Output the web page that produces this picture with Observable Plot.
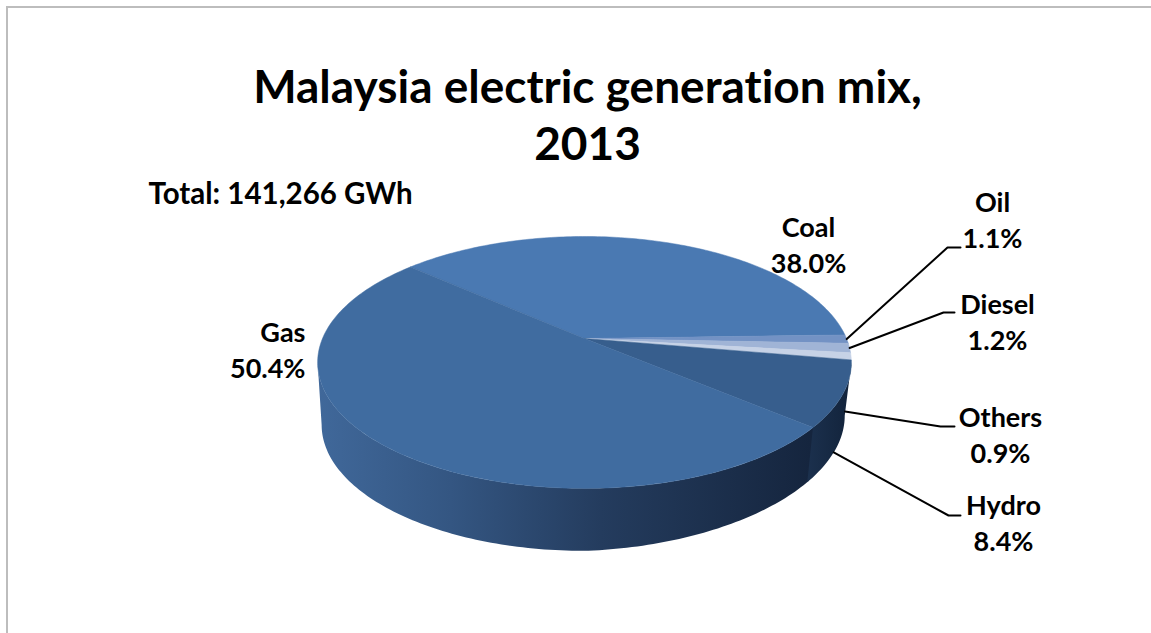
<!DOCTYPE html>
<html>
<head>
<meta charset="utf-8">
<script src="https://cdn.jsdelivr.net/npm/d3@7"></script>
<script src="https://cdn.jsdelivr.net/npm/@observablehq/plot@0.6"></script>
<style>
  html, body { margin: 0; padding: 0; background: #fff; overflow: hidden; }
  #frame { position: absolute; left: 6px; top: 6px; width: 1145px; height: 627px; border-top: 2px solid #bdbdbd; border-left: 2px solid #bdbdbd; box-sizing: border-box; pointer-events: none; }
  #title { position: absolute; left: 0; top: 0; width: 1175px; height: 165px; text-align: center; box-sizing: border-box; padding-top: 57px; font: 700 46px/57px Lato, sans-serif; font-variant-ligatures: none; color: #000; }
  #chart { position: absolute; left: 0; top: 165px; }
  #chart svg { display: block; }
</style>
</head>
<body>
<div id="frame"></div>
<div id="title">Malaysia electric generation mix,<br>2013</div>
<div id="chart"></div>
<script>
// Data, clockwise from the Gas/Coal boundary
const sources = ["Coal", "Oil", "Diesel", "Others", "Hydro", "Gas"];
const shares = [38.0, 1.1, 1.2, 0.9, 8.4, 50.4];
const totalLabel = "Total: 141,266 GWh";

// Styles
const sliceColors = ["#4a79b2", "#7392c4", "#a0b4d6", "#c6d2e6", "#375e8d", "#406ca0"];
const gasSideStops = [[318, "#40689a"], [450, "#345682"], [600, "#243c5e"], [810, "#15253e"]];
const hydroSideStops = [[808, "#1b304d"], [850, "#12233b"]];

// Label layout (outer end of leader line, label centre)
const labelLayout = [
  {name: "Coal", x: 808, y: 243},
  {name: "Gas", x: 305, y: 348},
  {name: "Oil", x: 992, y: 218, knee: [947, 247], end: 960, from: [0, 0]},
  {name: "Diesel", x: 997, y: 320, knee: [943, 312], end: 954, from: [0, 0]},
  {name: "Others", x: 1000, y: 433, knee: [940, 426], end: 954, from: [-2, 0.95]},
  {name: "Hydro", x: 1003, y: 521, knee: [948, 515], end: 960, from: [-2, 1]}
];

// Projection of the tilted disc: a circle in perspective
const apexX = 584, apexY = 338, A = 262, B = 121.4, K = 0.19, startAngle = 138.5;
const depth = 62.5, shrink = 0.985;
const rad = Math.PI / 180;
function rim(deg, t = 0) {
  const u = Math.cos(deg * rad), v = Math.sin(deg * rad), w = 1 + K * v;
  const x = apexX + A * u / w, y = apexY - B * v / w;
  const dx = x - apexX;
  const s = (1 + (shrink - 1) * t) * (dx > 0 ? 1 - 0.01 * t : 1);
  return {x: apexX + dx * s, y: y + depth * t - (dx > 0 ? 9 * (dx / A) * t : 0)};
}

// Slice angle ranges, built from the shares
let acc = startAngle;
const slices = sources.map((name, i) => {
  const a0 = acc, a1 = acc - shares[i] * 3.6;
  acc = a1;
  return {name, a0, a1, mid: (a0 + a1) / 2, color: sliceColors[i]};
});

// Top face polygons
const topPts = [];
for (const s of slices) {
  topPts.push({id: s.name, color: s.color, x: apexX, y: apexY});
  const n = Math.max(2, Math.ceil(Math.abs(s.a0 - s.a1)));
  for (let i = 0; i <= n; i++) {
    const p = rim(s.a0 + (s.a1 - s.a0) * i / n);
    topPts.push({id: s.name, color: s.color, ...p});
  }
}

// Side walls: top rim out, bottom rim back, between the silhouette angles
function wall(a, b) {
  const n = Math.ceil(Math.abs(a - b));
  const pts = d3.range(n + 1).map(i => rim(a + (b - a) * i / n));
  const back = d3.range(n, -1, -1).map(i => rim(a + (b - a) * i / n, 1));
  return pts.concat(back);
}
const seam = slices[4].a1;
const gasWall = wall(seam + 0.6, -169);
const hydroWall = wall(seam, -11);

// Gradient definitions used by the side walls
function gradientDefs() {
  const defs = d3.create("svg:defs");
  const add = (id, stops) => {
    const g = defs.append("linearGradient").attr("id", id).attr("gradientUnits", "userSpaceOnUse")
      .attr("x1", stops[0][0]).attr("x2", stops[stops.length - 1][0]).attr("y1", 0).attr("y2", 0);
    const span = stops[stops.length - 1][0] - stops[0][0];
    stops.forEach(s => g.append("stop").attr("offset", (s[0] - stops[0][0]) / span).attr("stop-color", s[1]));
  };
  add("gasSide", gasSideStops);
  add("hydroSide", hydroSideStops);
  return defs.node();
}

// Leader lines from the slice rims to the labels
const leaderPts = [];
labelLayout.filter(d => d.knee).forEach(d => {
  const s = slices.find(v => v.name === d.name);
  const start = rim(s.mid + d.from[0], d.from[1]);
  leaderPts.push({id: d.name, ...start}, {id: d.name, x: d.knee[0], y: d.knee[1]}, {id: d.name, x: d.end, y: d.knee[1]});
});

const labels = labelLayout.map(d => {
  const i = sources.indexOf(d.name);
  return {...d, text: `${d.name}\n${shares[i].toFixed(1)}%`};
});
const labelStyle = {x: "x", y: "y", text: "text", lineAnchor: "middle", lineHeight: 1.333, fontSize: 27, fontWeight: 700, fontFamily: "Lato, sans-serif", fill: "#000"};

const chart = Plot.plot({
  width: 1151,
  height: 468,
  margin: 0,
  x: {axis: null, domain: [0, 1151], range: [0, 1151]},
  y: {axis: null, domain: [165, 633], range: [0, 468]},
  color: {type: "identity"},
  style: {background: "transparent"},
  marks: [
    gradientDefs,
    Plot.line(gasWall, {x: "x", y: "y", fill: "url(#gasSide)", stroke: "none", curve: "linear-closed"}),
    Plot.line(hydroWall, {x: "x", y: "y", fill: "url(#hydroSide)", stroke: "none", curve: "linear-closed"}),
    Plot.line(topPts, {x: "x", y: "y", z: "id", fill: "color", stroke: "color", strokeWidth: 0.5, curve: "linear-closed"}),
    Plot.line(leaderPts, {x: "x", y: "y", z: "id", stroke: "#000", strokeWidth: 2, curve: "linear"}),
    Plot.text(labels.filter(d => d.name !== "Gas"), {...labelStyle, textAnchor: "middle"}),
    Plot.text(labels.filter(d => d.name === "Gas"), {...labelStyle, textAnchor: "end"}),
    Plot.text([totalLabel], {x: () => 148, y: () => 194, text: d => d, textAnchor: "start", lineAnchor: "middle", fontSize: 29.5, fontWeight: 700, fontFamily: "Lato, sans-serif", fill: "#000"})
  ]
});
document.getElementById("chart").appendChild(chart);
</script>
</body>
</html>
